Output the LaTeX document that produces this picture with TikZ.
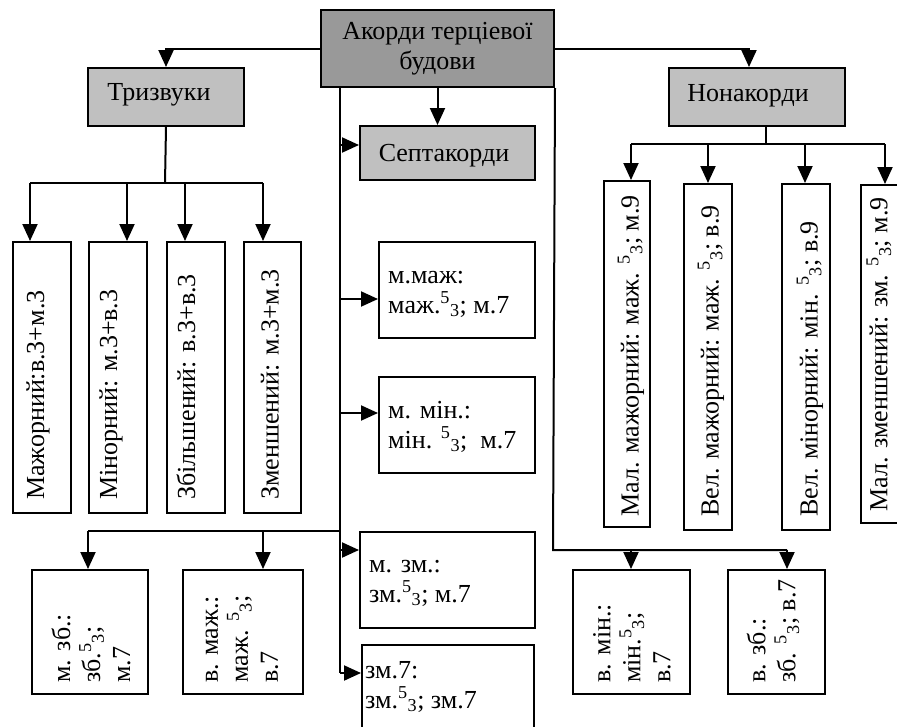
\documentclass[tikz,border=0pt]{standalone}
\usepackage{fontspec}
\setmainfont{Liberation Serif}
\usetikzlibrary{arrows.meta}
\definecolor{topgray}{HTML}{999999}
\definecolor{subgray}{HTML}{C0C0C0}
\newcommand{\FiveThree}{\textsuperscript{5}\textsubscript{3}}
\begin{document}
\begin{tikzpicture}[x=1pt,y=-1pt,
  every node/.style={font=\fontsize{26}{30}\selectfont},
  bx/.style={draw, line width=2pt, inner sep=0pt, anchor=north west},
  ln/.style={line width=2pt},
  arr/.style={line width=2pt, -{Triangle[length=17pt,width=15pt]}},
  rt/.style={rotate=90, anchor=west, align=left, inner sep=0pt},
  mt/.style={anchor=base west, align=left, inner sep=0pt},
  ct/.style={anchor=base, inner sep=0pt}]
\useasboundingbox (0,0) rectangle (897,726);
\clip (0,0) rectangle (897,726);

% main boxes
\node[bx, fill=topgray, minimum width=233pt, minimum height=77pt, align=center] (top) at (320,9) {Акорди терціевої\\будови};
\node[bx, fill=subgray, minimum width=156pt, minimum height=58pt] (trz) at (87,67) {};
\node[ct] (trzt) at (159,100) {Тризвуки};
\node[bx, fill=subgray, minimum width=175pt, minimum height=54pt] (sept) at (359,125) {};
\node[ct] (septt) at (444,161) {Септакорди};
\node[bx, fill=subgray, minimum width=176pt, minimum height=58pt] (non) at (668,67) {};
\node[ct] (nont) at (748,101) {Нонакорди};

% triads
\node[bx, minimum width=58pt, minimum height=271pt] (L1) at (12,241) {};
\node[bx, minimum width=58pt, minimum height=271pt] (L2) at (88,241) {};
\node[bx, minimum width=58pt, minimum height=271pt] (L3) at (166,241) {};
\node[bx, minimum width=57pt, minimum height=271pt] (L4) at (243,241) {};
\node[rt] (L1t) at (38,500) {Мажорний:в.3+м.3};
\node[rt] (L2t) at (111,500) {Мінорний: м.3+в.3};
\node[rt] (L3t) at (186,500) {Збільшений: в.3+в.3};
\node[rt] (L4t) at (270,500) {Зменшений: м.3+м.3};

% seventh chords, middle column
\node[bx, minimum width=156pt, minimum height=96pt] (M1) at (378,241) {};
\node[bx, minimum width=156pt, minimum height=96pt] (M2) at (378,376) {};
\node[bx, minimum width=175pt, minimum height=96pt] (M3) at (359,531) {};
\node[bx, minimum width=172pt, minimum height=100pt] (M4) at (361,644) {};
\node[mt] (M1t) at (388,313) {м.маж:\\маж.\FiveThree; м.7};
\node[mt] (M2t) at (388,448) {м. мін.:\\мін. \FiveThree; \ м.7};
\node[mt] (M3t) at (369,602) {м. зм.:\\зм.\FiveThree; м.7};
\node[mt] (M4t) at (365,708) {зм.7:\\зм.\FiveThree; зм.7};

% seventh chords, bottom
\node[bx, minimum width=116pt, minimum height=124pt] (B1) at (31,569) {};
\node[bx, minimum width=120pt, minimum height=124pt] (B2) at (182,569) {};
\node[bx, minimum width=117pt, minimum height=124pt] (B3) at (572,569) {};
\node[bx, minimum width=97pt, minimum height=124pt] (B4) at (727,569) {};
\node[rt] (B1t) at (91,683) {м. зб.:\\зб.\FiveThree;\\м.7};
\node[rt] (B2t) at (242,683) {в. маж.:\\маж. \FiveThree;\\в.7};
\node[rt] (B3t) at (632,683) {в. мін.:\\мін.\FiveThree;\\в.7};
\node[rt] (B4t) at (773,683) {в. зб.:\\зб. \FiveThree; в.7};

% ninth chords
\node[bx, minimum width=46pt, minimum height=346pt] (R1) at (603,180) {};
\node[bx, minimum width=48pt, minimum height=346pt] (R2) at (683,183) {};
\node[bx, minimum width=48pt, minimum height=346pt] (R3) at (781,183) {};
\node[bx, minimum width=60pt, minimum height=338pt] (R4) at (860,184) {};
\node[rt] (R1t) at (631,517) {Мал. мажорний: маж. \FiveThree; м.9};
\node[rt] (R2t) at (711,517) {Вел. мажорний: маж. \FiveThree; в.9};
\node[rt] (R3t) at (810,517) {Вел. мінорний: мін. \FiveThree; в.9};
\node[rt] (R4t) at (879,512) {Мал. зменшений: зм. \FiveThree; м.9};

% connectors from the top box
\draw[arr] (top.west) -| (trz.north);
\draw[arr] (top.east) -| ([xshift=-8pt]non.north);
\draw[arr] (top.south) -- (top.south |- sept.north);

% left trunk
\coordinate (tL) at (340,86);
\coordinate (jS) at (340,145);
\coordinate (jM1) at (340,299);
\coordinate (jM2) at (340,413);
\coordinate (jB) at (340,531);
\coordinate (jM3) at (340,550);
\coordinate (jM4) at (340,673);
\draw[ln] (tL) -- (jM4);
\draw[arr] (jS) -- (jS -| sept.west);
\draw[arr] (jM1) -- (jM1 -| M1.west);
\draw[arr] (jM2) -- (jM2 -| M2.west);
\draw[arr] (jM3) -- (jM3 -| M3.west);
\draw[arr] (jM4) -- (jM4 -| M4.west);
\coordinate (bB1) at (88,531);
\coordinate (bB2) at (263,531);
\draw[ln] (jB) -- (bB1);
\draw[arr] (bB1) -- (bB1 |- B1.north);
\draw[arr] (bB2) -- (bB2 |- B2.north);

% triads branching
\coordinate (hT) at (165,183);
\coordinate (t1) at (30,183);
\coordinate (t2) at (127,183);
\coordinate (t3) at (185,183);
\coordinate (t4) at (263,183);
\draw[ln] (trz.south) -- (hT);
\draw[ln] (t1) -- (t4);
\draw[arr] (t1) -- (t1 |- L1.north);
\draw[arr] (t2) -- (t2 |- L2.north);
\draw[arr] (t3) -- (t3 |- L3.north);
\draw[arr] (t4) -- (t4 |- L4.north);

% right trunk
\coordinate (rB) at (553,550);
\coordinate (r1) at (631,550);
\coordinate (r2) at (787,550);
\draw[ln] (top.south east) -- (rB) -- (r2);
\draw[arr] (r1) -- (r1 |- B3.north);
\draw[arr] (r2) -- (r2 |- B4.north);

% ninth chords branching
\coordinate (nS) at (766,125);
\coordinate (n0) at (766,144);
\coordinate (n1) at (631,144);
\coordinate (n2) at (708,144);
\coordinate (n3) at (805,144);
\coordinate (n4) at (885,144);
\draw[ln] (nS) -- (n0);
\draw[ln] (n1) -- (n4);
\draw[arr] (n1) -- (n1 |- R1.north);
\draw[arr] (n2) -- (n2 |- R2.north);
\draw[arr] (n3) -- (n3 |- R3.north);
\draw[arr] (n4) -- (n4 |- R4.north);
\end{tikzpicture}
\end{document}
